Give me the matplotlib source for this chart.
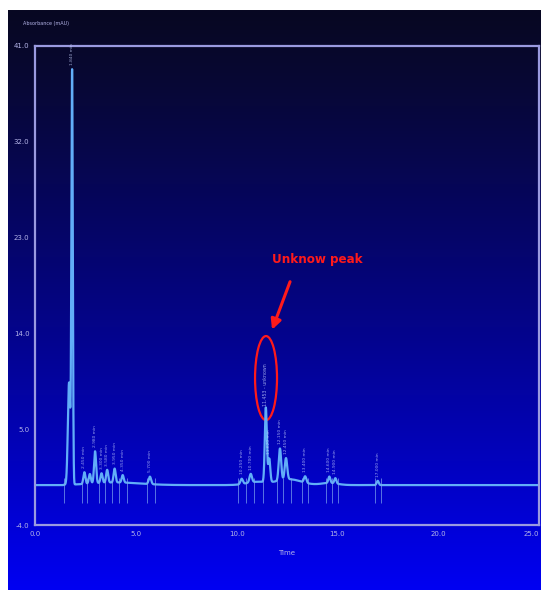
import numpy as np
import matplotlib
matplotlib.use("Agg")
import matplotlib.pyplot as plt
from matplotlib.patches import Ellipse

# ---- data ----
baseline_level = -0.25
peak_times   = [1.69, 1.84, 2.45, 2.72, 2.98, 3.30, 3.58, 3.95, 4.35, 5.70,
                10.25, 10.70, 11.45, 11.62, 12.15, 12.45, 13.40, 14.60, 14.90, 17.00]
peak_heights = [9.6, 38.6, 1.1, 0.9, 3.0, 0.9, 1.2, 1.3, 0.7, 0.7,
                0.5, 0.8, 7.0, 2.2, 3.0, 2.0, 0.6, 0.6, 0.5, 0.4]
peak_widths  = [0.06, 0.035, 0.05, 0.05, 0.05, 0.05, 0.05, 0.05, 0.05, 0.06,
                0.06, 0.06, 0.05, 0.05, 0.06, 0.06, 0.06, 0.05, 0.05, 0.05]
# broad baseline humps (time, height, width)
hump_times   = [4.0, 11.0, 12.6, 14.6]
hump_heights = [0.25, 0.3, 0.55, 0.2]
hump_widths  = [1.2, 0.5, 0.6, 0.4]
label_times  = [1.84, 2.45, 2.98, 3.30, 3.58, 3.95, 4.35, 5.70,
                10.25, 10.70, 11.62, 12.15, 12.45, 13.40, 14.60, 14.90, 17.00]
marker_times = [1.45, 2.35, 2.60, 3.15, 3.45, 3.80, 4.15, 4.55, 5.55, 5.95,
                10.05, 10.45, 10.85, 11.30, 12.00, 12.30, 12.70, 13.25, 13.55,
                14.45, 14.75, 15.05, 16.85, 17.15]
x_ticks = [0.0, 5.0, 10.0, 15.0, 20.0, 25.0]
y_ticks = [-4.0, 5.0, 14.0, 23.0, 32.0, 41.0]

# ---- figure ----
W, H = 544, 590
fig = plt.figure(figsize=(W / 100, H / 100), dpi=100)
fig.patch.set_facecolor("white")

# gradient background
bg = fig.add_axes([8 / W, 0, 533 / W, 1 - 10 / H])
frac = np.linspace(0, 1, 256) ** 1.15
top = np.array([8, 8, 34]) / 255
bot = np.array([0, 0, 242]) / 255
grad = top[None, :] * (1 - frac[:, None]) + bot[None, :] * frac[:, None]
bg.imshow(grad[:, None, :], aspect="auto", extent=[0, 1, 0, 1])
bg.set_axis_off()

ax = fig.add_axes([35 / W, 1 - 525 / H, 504 / W, 479 / H])
ax.patch.set_alpha(0)
ax.set_xlim(0, 25)
ax.set_ylim(-4, 41)

t = np.linspace(0, 25, 5001)
sig = np.full_like(t, baseline_level)
for c, h, w in zip(peak_times, peak_heights, peak_widths):
    sig += h * np.exp(-0.5 * ((t - c) / w) ** 2)
for c, h, w in zip(hump_times, hump_heights, hump_widths):
    sig += h * np.exp(-0.5 * ((t - c) / w) ** 2)
sig[t < 1.40] = baseline_level

ax.plot(t, sig, color="#62aef8", lw=1.6)
ax.vlines(marker_times, -1.9, 0.4, color="#7fa8ee", lw=0.6, alpha=0.8)

for lt in label_times:
    i = np.argmin(np.abs(t - lt))
    ax.text(lt, sig[i] + 0.4, f"{lt:.3f} min", rotation=90, fontsize=3.2,
            color="#c8d4ff", ha="center", va="bottom", alpha=0.75)
ax.text(11.45, 7.2, "11.453 - unknown", rotation=90, fontsize=3.4,
        color="#c8d4ff", ha="center", va="bottom", alpha=0.75)

for s in ax.spines.values():
    s.set_color("#9a9ae0")
    s.set_linewidth(1.6)
ax.set_xticks(x_ticks)
ax.set_yticks(y_ticks)
ax.set_xticklabels([f"{v:.1f}" for v in x_ticks])
ax.set_yticklabels([f"{v:.1f}" for v in y_ticks])
ax.tick_params(length=0, labelsize=5, colors="#b4b4e8", pad=4)
ax.get_xticklabels()[-1].set_ha("right")
ax.set_xlabel("Time", fontsize=5, color="#b4b4e8", labelpad=10)
fig.text(23 / W, 1 - 24 / H, "Absorbance (mAU)", fontsize=3.5, color="#b4b4e8",
         ha="left", va="center")

# red annotation
ax.add_patch(Ellipse((11.46, 9.8), 1.09, 7.9, fill=False, edgecolor="#ff1a1a", lw=1.6))
ax.annotate("", xy=(11.71, 14.1), xytext=(12.70, 19.1),
            arrowprops=dict(arrowstyle="-|>,head_length=0.6,head_width=0.3",
                            color="#ff1a1a", lw=2.2))
ax.text(14.0, 20.9, "Unknow peak", color="#ff1a1a", fontsize=9.5, fontweight="bold",
        family=["DejaVu Sans"], fontstretch="condensed",
        ha="center", va="center")

fig.savefig("out.png", dpi=100, facecolor="white")
